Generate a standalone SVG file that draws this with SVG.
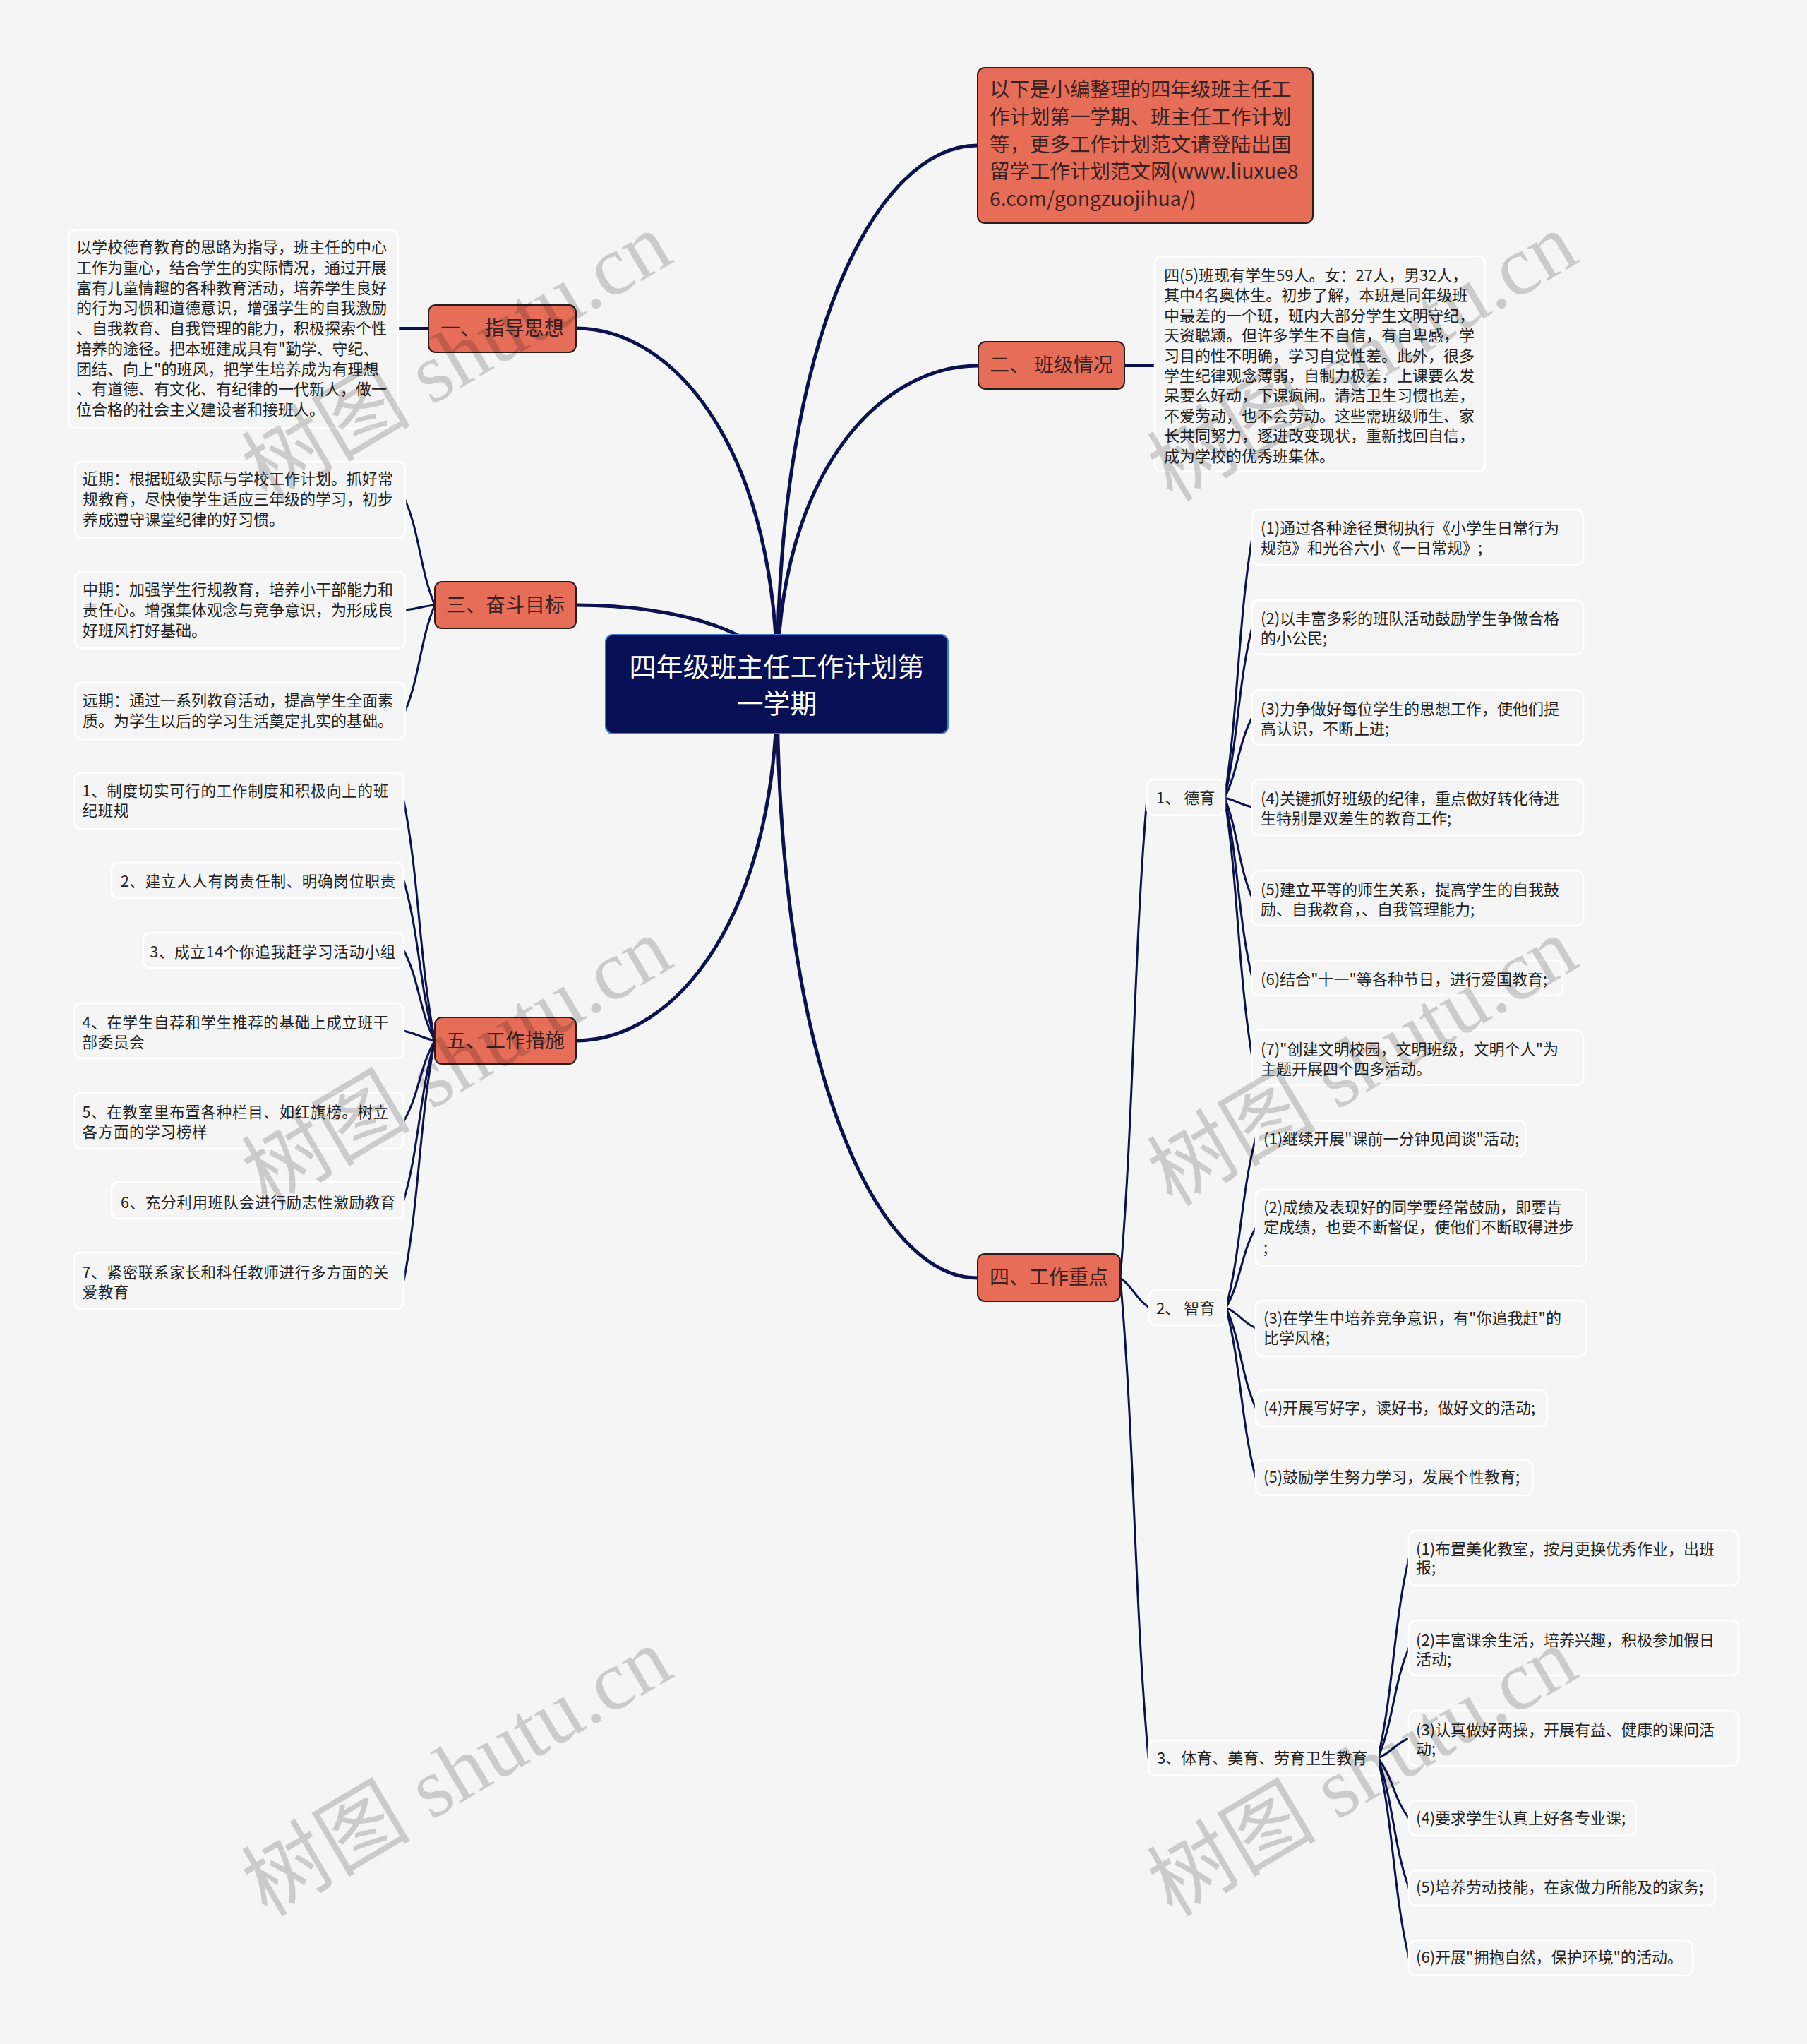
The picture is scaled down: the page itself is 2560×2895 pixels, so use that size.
<svg xmlns="http://www.w3.org/2000/svg" width="2560" height="2895" viewBox="0 0 2560 2895">
<style>
text{font-family:"Noto Sans CJK SC","Noto Sans",sans-serif}
.root rect{fill:#070f55;stroke:#3c7bd6;stroke-width:2}
.root text{fill:#ffffff;font-size:38px;text-anchor:middle}
.main rect{fill:#e66e58;stroke:#2b1b1b;stroke-width:2}
.main text{fill:#3b2222;font-size:28px;text-anchor:middle}
.note text{fill:#3b2222;font-size:28.5px;text-anchor:start}
.leaf rect{fill:#f5f5f5;stroke:#ffffff;stroke-width:2.5}
.leaf text{fill:#222222;font-size:22px}
.s5 text{font-size:21.5px;letter-spacing:0.7px}
.r text{text-anchor:end}
.lk path{fill:none;stroke:#0c1150;stroke-linecap:round}
.l1{stroke-width:5}
.l2{stroke-width:3}
.wm{font-family:"Liberation Serif","Noto Sans CJK SC",serif;font-size:120px;fill:#000;fill-opacity:0.17}
</style>
<rect width="2560" height="2895" fill="#f5f5f5"/>
<g class="lk" id="connectors">
<path class="l1" d="M1101,969 C1101,473 1243,206 1385,206"/>
<path class="l1" d="M1101,969 C1101,676 1243,518 1386,518"/>
<path class="l1" d="M1101,969 C1101,641 958,465 816,465"/>
<path class="l1" d="M1101,969 C1101,896 958,857 816,857"/>
<path class="l1" d="M1101,969 C1101,1297 958,1474 816,1474"/>
<path class="l1" d="M1101,969 C1101,1516 1243,1810 1385,1810"/>
<path class="l1" style="stroke-width:4" d="M564,465 L607,465"/>
<path class="l1" style="stroke-width:4" d="M1593,518 L1636,518"/>
<path class="l2" d="M616,857 C595,808 595,757 574,708"/>
<path class="l2" d="M616,857 C595,859 595,862 574,864"/>
<path class="l2" d="M616,857 C595,906 595,957 574,1007"/>
<path class="l2" d="M616,1474 C594,1362 594,1246 572,1134"/>
<path class="l2" d="M616,1474 C594,1399 594,1322 572,1247"/>
<path class="l2" d="M616,1474 C594,1432 594,1388 572,1346"/>
<path class="l2" d="M616,1474 C594,1469 594,1465 572,1460"/>
<path class="l2" d="M616,1474 C594,1512 594,1550 572,1588"/>
<path class="l2" d="M616,1474 C594,1549 594,1625 572,1700"/>
<path class="l2" d="M616,1474 C594,1586 594,1702 572,1814"/>
<path class="l2" d="M1587,1810 C1606,1586 1606,1354 1625,1130"/>
<path class="l2" d="M1587,1810 C1607,1824 1607,1838 1628,1852"/>
<path class="l2" d="M1587,1810 C1607,2034 1607,2266 1627,2490"/>
<path class="l2" d="M1735,1130 C1754,1008 1754,883 1774,761"/>
<path class="l2" d="M1735,1130 C1754,1050 1754,968 1774,888"/>
<path class="l2" d="M1735,1130 C1754,1092 1754,1054 1774,1016"/>
<path class="l2" d="M1735,1130 C1754,1134 1754,1139 1774,1143"/>
<path class="l2" d="M1735,1130 C1754,1177 1754,1225 1774,1272"/>
<path class="l2" d="M1735,1130 C1754,1214 1754,1301 1774,1385"/>
<path class="l2" d="M1735,1130 C1754,1251 1754,1377 1774,1498"/>
<path class="l2" d="M1737,1852 C1758,1773 1758,1691 1779,1612"/>
<path class="l2" d="M1737,1852 C1758,1815 1758,1776 1779,1739"/>
<path class="l2" d="M1737,1852 C1758,1862 1758,1871 1779,1881"/>
<path class="l2" d="M1737,1852 C1758,1899 1758,1947 1779,1994"/>
<path class="l2" d="M1737,1852 C1758,1932 1758,2013 1779,2093"/>
<path class="l2" d="M1952,2490 C1974,2397 1974,2300 1996,2207"/>
<path class="l2" d="M1952,2490 C1974,2439 1974,2385 1996,2334"/>
<path class="l2" d="M1952,2490 C1974,2481 1974,2471 1996,2462"/>
<path class="l2" d="M1952,2490 C1974,2518 1974,2547 1996,2575"/>
<path class="l2" d="M1952,2490 C1974,2551 1974,2613 1996,2674"/>
<path class="l2" d="M1952,2490 C1974,2583 1974,2680 1996,2773"/>
</g>
<g class="root" id="root">
<rect x="858" y="899" width="485" height="140" rx="10"/>
<text x="1100.5" y="958">四年级班主任工作计划第</text>
<text x="1100.5" y="1010">一学期</text>
</g>
<g class="main note" id="n-note">
<rect x="1385" y="96" width="475" height="220" rx="10"/>
<text x="1402" y="137">以下是小编整理的四年级班主任工</text>
<text x="1402" y="176">作计划第一学期、班主任工作计划</text>
<text x="1402" y="215">等，更多工作计划范文请登陆出国</text>
<text x="1402" y="253">留学工作计划范文网(www.liuxue8</text>
<text x="1402" y="292">6.com/gongzuojihua/)</text>
</g>
<g class="main" id="n1"><rect x="607" y="432" width="209" height="67" rx="10"/><text x="711.5" y="475">一、 指导思想</text></g>
<g class="main" id="n2"><rect x="1386" y="484" width="207" height="67" rx="10"/><text x="1489.5" y="527">二、 班级情况</text></g>
<g class="main" id="n3"><rect x="616" y="824" width="200" height="66" rx="10"/><text x="716" y="867">三、奋斗目标</text></g>
<g class="main" id="n4"><rect x="1385" y="1776" width="202" height="67" rx="10"/><text x="1486" y="1819">四、工作重点</text></g>
<g class="main" id="n5"><rect x="616" y="1441" width="200" height="66" rx="10"/><text x="716" y="1484">五、工作措施</text></g>
<g class="leaf" id="n1-1">
<rect x="97" y="326" width="467" height="280" rx="10"/>
<text x="108" y="358">以学校德育教育的思路为指导，班主任的中心</text>
<text x="108" y="386.7">工作为重心，结合学生的实际情况，通过开展</text>
<text x="108" y="415.5">富有儿童情趣的各种教育活动，培养学生良好</text>
<text x="108" y="444.2">的行为习惯和道德意识，增强学生的自我激励</text>
<text x="108" y="473">、自我教育、自我管理的能力，积极探索个性</text>
<text x="108" y="501.7">培养的途径。把本班建成具有"勤学、守纪、</text>
<text x="108" y="530.5">团结、向上"的班风，把学生培养成为有理想</text>
<text x="108" y="559.2">、有道德、有文化、有纪律的一代新人，做一</text>
<text x="108" y="588">位合格的社会主义建设者和接班人。</text>
</g>
<g class="leaf" id="n2-1">
<rect x="1636" y="363" width="468" height="305" rx="10"/>
<text x="1649" y="398">四(5)班现有学生59人。女：27人，男32人，</text>
<text x="1649" y="426.4">其中4名奥体生。初步了解，本班是同年级班</text>
<text x="1649" y="454.8">中最差的一个班，班内大部分学生文明守纪，</text>
<text x="1649" y="483.2">天资聪颖。但许多学生不自信，有自卑感，学</text>
<text x="1649" y="511.6">习目的性不明确，学习自觉性差。此外，很多</text>
<text x="1649" y="540">学生纪律观念薄弱，自制力极差，上课要么发</text>
<text x="1649" y="568.4">呆要么好动，下课疯闹。清洁卫生习惯也差，</text>
<text x="1649" y="596.8">不爱劳动，也不会劳动。这些需班级师生、家</text>
<text x="1649" y="625.2">长共同努力，逐进改变现状，重新找回自信，</text>
<text x="1649" y="653.6">成为学校的优秀班集体。</text>
</g>
<g class="leaf" id="n3-1">
<rect x="106" y="654" width="468" height="108" rx="10"/>
<text x="117" y="686">近期：根据班级实际与学校工作计划。抓好常</text>
<text x="117" y="715">规教育，尽快使学生适应三年级的学习，初步</text>
<text x="117" y="744">养成遵守课堂纪律的好习惯。</text>
</g>
<g class="leaf" id="n3-2">
<rect x="106" y="810" width="468" height="108" rx="10"/>
<text x="117" y="843">中期：加强学生行规教育，培养小干部能力和</text>
<text x="117" y="872">责任心。增强集体观念与竞争意识，为形成良</text>
<text x="117" y="900.5">好班风打好基础。</text>
</g>
<g class="leaf" id="n3-3">
<rect x="106" y="967" width="468" height="80" rx="10"/>
<text x="117" y="1000">远期：通过一系列教育活动，提高学生全面素</text>
<text x="117" y="1029">质。为学生以后的学习生活奠定扎实的基础。</text>
</g>
<g class="leaf s5" id="n5-1">
<rect x="105" y="1095" width="467" height="79" rx="10"/>
<text x="116.5" y="1128">1、制度切实可行的工作制度和积极向上的班</text>
<text x="116.5" y="1156">纪班规</text>
</g>
<g class="leaf s5 r" id="n5-2">
<rect x="158" y="1222" width="414" height="50" rx="10"/>
<text x="561" y="1256">2、建立人人有岗责任制、明确岗位职责</text>
</g>
<g class="leaf s5 r" id="n5-3">
<rect x="203" y="1321" width="369" height="50" rx="10"/>
<text x="561" y="1356">3、成立14个你追我赶学习活动小组</text>
</g>
<g class="leaf s5" id="n5-4">
<rect x="105" y="1421" width="467" height="78" rx="10"/>
<text x="116.5" y="1456">4、在学生自荐和学生推荐的基础上成立班干</text>
<text x="116.5" y="1483.5">部委员会</text>
</g>
<g class="leaf s5" id="n5-5">
<rect x="105" y="1548" width="467" height="79" rx="10"/>
<text x="116.5" y="1583">5、在教室里布置各种栏目、如红旗榜。树立</text>
<text x="116.5" y="1611">各方面的学习榜样</text>
</g>
<g class="leaf s5 r" id="n5-6">
<rect x="158" y="1674" width="414" height="52" rx="10"/>
<text x="561" y="1711">6、充分利用班队会进行励志性激励教育</text>
</g>
<g class="leaf s5" id="n5-7">
<rect x="105" y="1774" width="467" height="80" rx="10"/>
<text x="116.5" y="1810">7、紧密联系家长和科任教师进行多方面的关</text>
<text x="116.5" y="1838">爱教育</text>
</g>
<g class="leaf" id="n4-1"><rect x="1625" y="1104" width="110" height="51" rx="10"/><text x="1638" y="1138">1、 德育</text></g>
<g class="leaf" id="n4-2"><rect x="1628" y="1827" width="109" height="50" rx="10"/><text x="1638" y="1861">2、 智育</text></g>
<g class="leaf" id="n4-3"><rect x="1627" y="2465" width="325" height="50" rx="10"/><text x="1639" y="2498">3、体育、美育、劳育卫生教育</text></g>
<g class="leaf" id="n4-1-1">
<rect x="1774" y="722" width="469" height="78" rx="10"/>
<text x="1786" y="756">(1)通过各种途径贯彻执行《小学生日常行为</text>
<text x="1786" y="784">规范》和光谷六小《一日常规》;</text>
</g>
<g class="leaf" id="n4-1-2">
<rect x="1774" y="850" width="469" height="77" rx="10"/>
<text x="1786" y="884">(2)以丰富多彩的班队活动鼓励学生争做合格</text>
<text x="1786" y="912">的小公民;</text>
</g>
<g class="leaf" id="n4-1-3">
<rect x="1774" y="977" width="469" height="78" rx="10"/>
<text x="1786" y="1012">(3)力争做好每位学生的思想工作，使他们提</text>
<text x="1786" y="1040">高认识，不断上进;</text>
</g>
<g class="leaf" id="n4-1-4">
<rect x="1774" y="1104" width="469" height="79" rx="10"/>
<text x="1786" y="1139">(4)关键抓好班级的纪律，重点做好转化待进</text>
<text x="1786" y="1167">生特别是双差生的教育工作;</text>
</g>
<g class="leaf" id="n4-1-5">
<rect x="1774" y="1233" width="469" height="78" rx="10"/>
<text x="1786" y="1268">(5)建立平等的师生关系，提高学生的自我鼓</text>
<text x="1786" y="1296">励、自我教育，、自我管理能力;</text>
</g>
<g class="leaf" id="n4-1-6">
<rect x="1774" y="1360" width="440" height="50" rx="10"/>
<text x="1786" y="1395">(6)结合"十一"等各种节日，进行爱国教育;</text>
</g>
<g class="leaf" id="n4-1-7">
<rect x="1774" y="1459" width="469" height="78" rx="10"/>
<text x="1786" y="1494">(7)"创建文明校园，文明班级，文明个人"为</text>
<text x="1786" y="1522">主题开展四个四多活动。</text>
</g>
<g class="leaf" id="n4-2-1">
<rect x="1779" y="1587" width="383" height="50" rx="10"/>
<text x="1790" y="1621">(1)继续开展"课前一分钟见闻谈"活动;</text>
</g>
<g class="leaf" id="n4-2-2">
<rect x="1779" y="1685" width="468" height="108" rx="10"/>
<text x="1790" y="1718">(2)成绩及表现好的同学要经常鼓励，即要肯</text>
<text x="1790" y="1746">定成绩，也要不断督促，使他们不断取得进步</text>
<text x="1790" y="1775">;</text>
</g>
<g class="leaf" id="n4-2-3">
<rect x="1779" y="1842" width="468" height="79" rx="10"/>
<text x="1790" y="1875">(3)在学生中培养竞争意识，有"你追我赶"的</text>
<text x="1790" y="1903">比学风格;</text>
</g>
<g class="leaf" id="n4-2-4">
<rect x="1779" y="1969" width="413" height="51" rx="10"/>
<text x="1790" y="2002">(4)开展写好字，读好书，做好文的活动;</text>
</g>
<g class="leaf" id="n4-2-5">
<rect x="1779" y="2068" width="392" height="50" rx="10"/>
<text x="1790" y="2100">(5)鼓励学生努力学习，发展个性教育;</text>
</g>
<g class="leaf" id="n4-3-1">
<rect x="1996" y="2168" width="467" height="78" rx="10"/>
<text x="2006" y="2202">(1)布置美化教室，按月更换优秀作业，出班</text>
<text x="2006" y="2228">报;</text>
</g>
<g class="leaf" id="n4-3-2">
<rect x="1996" y="2295" width="467" height="78" rx="10"/>
<text x="2006" y="2331">(2)丰富课余生活，培养兴趣，积极参加假日</text>
<text x="2006" y="2358">活动;</text>
</g>
<g class="leaf" id="n4-3-3">
<rect x="1996" y="2423" width="467" height="78" rx="10"/>
<text x="2006" y="2458">(3)认真做好两操，开展有益、健康的课间活</text>
<text x="2006" y="2485">动;</text>
</g>
<g class="leaf" id="n4-3-4">
<rect x="1996" y="2550" width="322" height="50" rx="10"/>
<text x="2006" y="2583">(4)要求学生认真上好各专业课;</text>
</g>
<g class="leaf" id="n4-3-5">
<rect x="1996" y="2649" width="434" height="50" rx="10"/>
<text x="2006" y="2681">(5)培养劳动技能，在家做力所能及的家务;</text>
</g>
<g class="leaf" id="n4-3-6">
<rect x="1996" y="2748" width="402" height="50" rx="10"/>
<text x="2006" y="2780">(6)开展"拥抱自然，保护环境"的活动。</text>
</g>
<g id="watermarks">
<text class="wm" transform="translate(378,712) rotate(-30.6)">树图 shutu.cn</text>
<text class="wm" transform="translate(1661,712) rotate(-30.6)">树图 shutu.cn</text>
<text class="wm" transform="translate(378,1710) rotate(-30.6)">树图 shutu.cn</text>
<text class="wm" transform="translate(1661,1710) rotate(-30.6)">树图 shutu.cn</text>
<text class="wm" transform="translate(378,2716) rotate(-30.6)">树图 shutu.cn</text>
<text class="wm" transform="translate(1661,2716) rotate(-30.6)">树图 shutu.cn</text>
</g>
</svg>
